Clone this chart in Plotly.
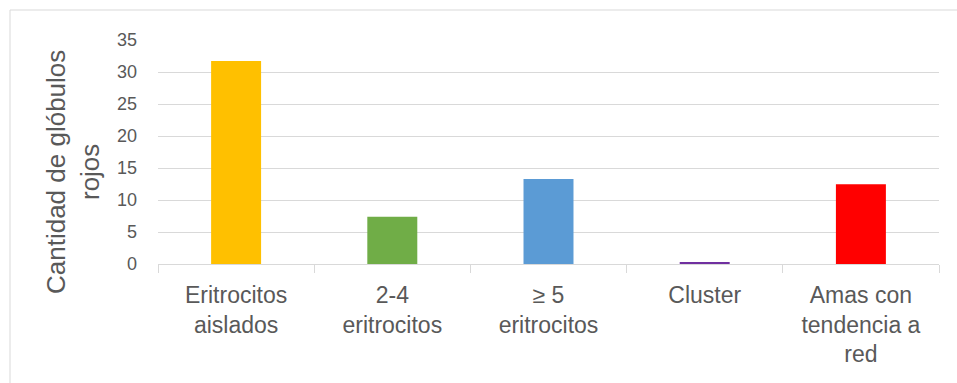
import plotly.graph_objects as go

# Categories and counts of red blood cells
categories = [
    "Eritrocitos<br>aislados",
    "2-4<br>eritrocitos",
    "≥ 5<br>eritrocitos",
    "Cluster",
    "Amas con<br>tendencia a<br>red",
]
values = [31.7, 7.4, 13.3, 0.2, 12.45]
colors = ["#FFC000", "#70AD47", "#5B9BD5", "#7030A0", "#FF0000"]
y_ticks = [0, 5, 10, 15, 20, 25, 30, 35]

W, H = 957, 383
L, R, T, B = 158, 18, 40, 119
pw, ph = W - L - R, H - T - B

grey = "#595959"
line = "#D9D9D9"

fig = go.Figure(
    go.Bar(
        x=categories,
        y=values,
        marker=dict(color=colors, line=dict(width=0)),
        width=0.32,
        hoverinfo="x+y",
    )
)

fig.update_layout(
    width=W,
    height=H,
    margin=dict(l=L, r=R, t=T, b=B),
    paper_bgcolor="white",
    plot_bgcolor="white",
    showlegend=False,
    font=dict(family="Liberation Sans, Arial, sans-serif", color=grey),
    xaxis=dict(
        type="category",
        showline=True,
        linecolor=line,
        linewidth=1,
        ticks="outside",
        tickson="boundaries",
        ticklen=8,
        tickcolor=line,
        tickwidth=1,
        tickfont=dict(size=23, color=grey),
        ticklabelstandoff=10,
        showgrid=False,
    ),
    yaxis=dict(
        range=[0, 35],
        tickvals=y_ticks,
        showgrid=True,
        gridcolor=line,
        gridwidth=1,
        zeroline=False,
        showline=False,
        ticks="",
        tickfont=dict(size=18, color=grey),
        ticklabelstandoff=20,
    ),
    annotations=[
        dict(
            text="Cantidad de glóbulos<br>rojos",
            textangle=-90,
            xref="paper",
            yref="paper",
            x=(73 - L) / pw,
            y=(T + ph - 172) / ph,
            xanchor="center",
            yanchor="middle",
            showarrow=False,
            font=dict(size=26, color=grey),
        )
    ],
    shapes=[
        dict(
            type="rect",
            xref="paper",
            yref="paper",
            x0=(10 - L) / pw,
            x1=(W + 20 - L) / pw,
            y0=(T + ph - (H + 20)) / ph,
            y1=(T + ph - 10) / ph,
            line=dict(color=line, width=1),
            fillcolor="rgba(0,0,0,0)",
            layer="below",
        )
    ],
)

fig.write_html("out.html")
